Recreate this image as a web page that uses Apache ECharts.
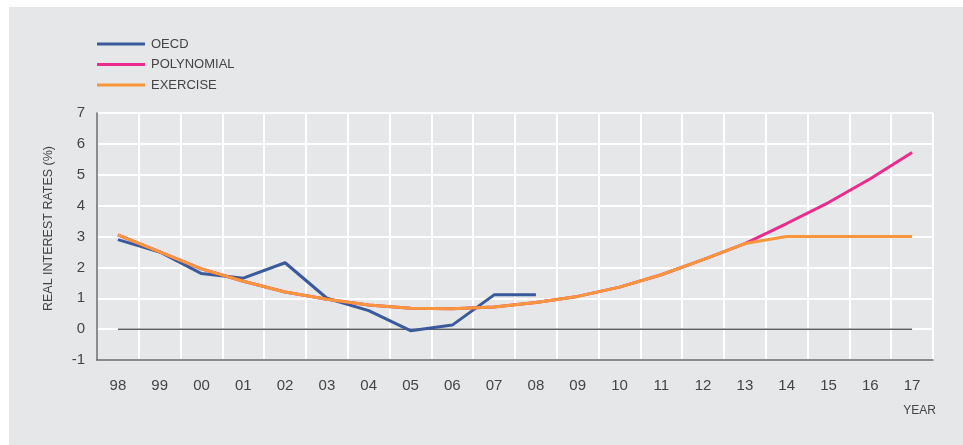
<!DOCTYPE html>
<html>
<head>
<meta charset="utf-8">
<script src="https://cdn.jsdelivr.net/npm/echarts@6/dist/echarts.min.js"></script>
<style>
html,body{margin:0;padding:0;background:#fff;}
#c{width:963px;height:445px;}
</style>
</head>
<body>
<div id="c"></div>
<script>
var categories = ['98','99','00','01','02','03','04','05','06','07','08','09','10','11','12','13','14','15','16','17'];
var oecd = [2.9, 2.5, 1.8, 1.65, 2.15, 1.0, 0.6, -0.05, 0.13, 1.11, 1.11];
var polynomial = [3.05, 2.5, 1.95, 1.55, 1.2, 0.97, 0.78, 0.68, 0.66, 0.72, 0.86, 1.06, 1.36, 1.76, 2.25, 2.77, 3.42, 4.1, 4.87, 5.72];
var exercise = [3.05, 2.5, 1.95, 1.55, 1.2, 0.97, 0.78, 0.68, 0.66, 0.72, 0.86, 1.06, 1.36, 1.76, 2.25, 2.77, 3.0, 3.0, 3.0, 3.0];
var zeroLine = [0,0,0,0,0,0,0,0,0,0,0,0,0,0,0,0,0,0,0,0];
var yTicks = {min: -1, max: 7, interval: 1};

var chart = echarts.init(document.getElementById('c'), null, {renderer: 'canvas'});
var font = 'Liberation Sans, Arial, sans-serif';
chart.setOption({
  backgroundColor: '#fff',
  animation: false,
  graphic: [
    {type: 'rect', left: 9, top: 7, shape: {width: 954, height: 438}, style: {fill: '#e6e7e9'}, z: -10, silent: true},
    {type: 'text', right: 27, top: 405, style: {text: 'YEAR', fill: '#444', font: '12px ' + font}, silent: true}
  ],
  grid: {left: 97, right: 30, top: 113, bottom: 85},
  legend: {
    orient: 'vertical', left: 97, top: 37, padding: 0,
    itemWidth: 48, itemHeight: 3, itemGap: 6.5, icon: 'rect',
    textStyle: {color: '#444', fontSize: 13, fontFamily: font, lineHeight: 14, padding: [0,0,0,1]},
    data: ['OECD', 'POLYNOMIAL', 'EXERCISE']
  },
  xAxis: {
    type: 'category', data: categories, boundaryGap: true,
    axisLine: {onZero: false, lineStyle: {color: '#666', width: 1.5}},
    axisTick: {show: false},
    axisLabel: {color: '#444', fontSize: 15, fontFamily: font, margin: 18, interval: 0},
    splitLine: {show: true, interval: 0, lineStyle: {color: '#fff', width: 2}}
  },
  yAxis: {
    type: 'value', min: yTicks.min, max: yTicks.max, interval: yTicks.interval,
    name: 'REAL INTEREST RATES (%)', nameLocation: 'middle', nameGap: 42,
    nameTextStyle: {color: '#444', fontSize: 12.5, fontFamily: font, padding: [0,0,0,16]},
    axisLine: {show: true, lineStyle: {color: '#666', width: 1.5}},
    axisTick: {show: false},
    axisLabel: {color: '#444', fontSize: 15, fontFamily: font, margin: 12},
    splitLine: {show: true, lineStyle: {color: '#fff', width: 2}}
  },
  series: [
    {name: 'zero', type: 'line', data: zeroLine, showSymbol: false, silent: true,
     lineStyle: {color: '#5f6062', width: 1.5}, itemStyle: {color: '#5f6062'}, z: 1},
    {name: 'OECD', type: 'line', data: oecd, showSymbol: false,
     lineStyle: {color: '#3a5a9b', width: 3}, itemStyle: {color: '#3a5a9b'}, z: 2},
    {name: 'POLYNOMIAL', type: 'line', data: polynomial, showSymbol: false,
     lineStyle: {color: '#ea2a8c', width: 3}, itemStyle: {color: '#ea2a8c'}, z: 3},
    {name: 'EXERCISE', type: 'line', data: exercise, showSymbol: false,
     lineStyle: {color: '#f7963a', width: 3}, itemStyle: {color: '#f7963a'}, z: 4}
  ]
});
</script>
</body>
</html>
